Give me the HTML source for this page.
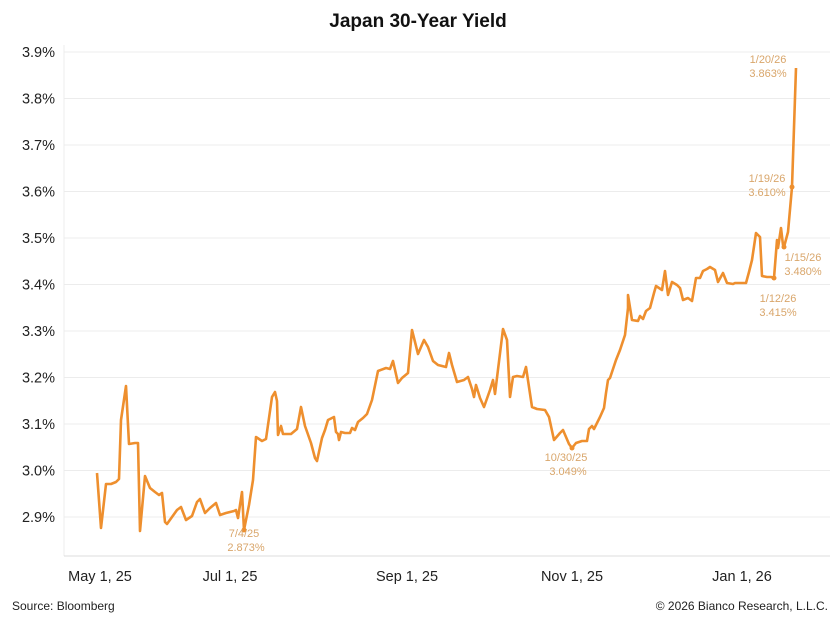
<!DOCTYPE html>
<html><head><meta charset="utf-8"><style>
body{margin:0;background:#fff;width:833px;height:620px;overflow:hidden;font-family:"Liberation Sans",sans-serif}
</style></head><body>
<svg width="833" height="620" viewBox="0 0 833 620" xmlns="http://www.w3.org/2000/svg" font-family="Liberation Sans, sans-serif">
<text x="418" y="27" text-anchor="middle" font-size="19" font-weight="bold" fill="#111">Japan 30-Year Yield</text>
<g stroke="#ececec" stroke-width="1">
<line x1="64" x2="830" y1="52" y2="52"/><line x1="64" x2="830" y1="98.5" y2="98.5"/><line x1="64" x2="830" y1="145" y2="145"/><line x1="64" x2="830" y1="191.5" y2="191.5"/><line x1="64" x2="830" y1="238" y2="238"/><line x1="64" x2="830" y1="284.5" y2="284.5"/><line x1="64" x2="830" y1="331" y2="331"/><line x1="64" x2="830" y1="377.5" y2="377.5"/><line x1="64" x2="830" y1="424" y2="424"/><line x1="64" x2="830" y1="470.5" y2="470.5"/><line x1="64" x2="830" y1="517" y2="517"/>
<line x1="64" x2="64" y1="45" y2="556"/>
</g>
<line x1="64" x2="830" y1="556" y2="556" stroke="#ddd"/>
<g font-size="14.5" fill="#222" text-anchor="end">
<text x="55" y="57">3.9%</text><text x="55" y="103.5">3.8%</text><text x="55" y="150">3.7%</text><text x="55" y="196.5">3.6%</text><text x="55" y="243">3.5%</text><text x="55" y="289.5">3.4%</text><text x="55" y="336">3.3%</text><text x="55" y="382.5">3.2%</text><text x="55" y="429">3.1%</text><text x="55" y="475.5">3.0%</text><text x="55" y="522">2.9%</text>
</g>
<g font-size="14.5" fill="#222" text-anchor="middle">
<text x="100" y="581">May 1, 25</text><text x="230" y="581">Jul 1, 25</text><text x="407" y="581">Sep 1, 25</text><text x="572" y="581">Nov 1, 25</text><text x="742" y="581">Jan 1, 26</text>
</g>
<text x="12" y="610" font-size="12" fill="#222">Source: Bloomberg</text>
<text x="828" y="610" font-size="12" fill="#222" text-anchor="end">© 2026 Bianco Research, L.L.C.</text>
<polyline fill="none" stroke="#ee8f2e" stroke-width="2.6" stroke-linejoin="round" points="97,473 101,528 106,484 111,484 116,482 119,479 121,420 126,386 129,444 135,443 138,443 140,531 145,476 150,488 155,492 159,495 162,493 165,522 167,524 172,517 177,510 181,507 186,520 192,516 197,502 200,499 205,513 210,508 216,503 220,515 226,513 234,511 236,510 238,518 242,492 244,530 249,505 253,480 256,437 262,441 266,439 272,397 275,392 277,401 278,435 281,426 283,434 291,434 297,429 301,407 305,426 311,443 315,458 317,461 322,438 325,430 328,420 330,419 334,417 336,432 338,434 339,440 341,432 345,433 350,433 352,428 355,430 358,422 363,418 367,414 372,400 378,371 386,368 390,369 393,361 398,383 402,378 408,373 412,330 418,354 424,340 428,347 433,361 438,365 446,367 449,353 452,365 457,382 464,380 468,377 472,389 474,397 476,385 480,398 484,407 490,390 493,380 495,394 503,329 507,340 510,397 513,377 517,376 523,377 526,367 532,407 537,409 545,410 549,417 554,440 560,433 563,430 569,444 572,448 576,443 582,441 587,441 589,429 592,426 594,429 600,417 604,408 606,393 608,380 610,378 616,360 620,350 625,335 628,308 628,295 632,320 638,321 640,316 643,319 646,311 650,308 654,293 656,286 662,290 665,271 668,295 672,282 677,285 680,288 683,300 688,298 692,301 696,278 700,278 703,271 707,269 710,267 715,270 718,282 723,273 727,283 733,284 735,283 746,283 749,272 752,260 756,233 760,237 762,276 767,277 771,277 774,278 777,240 778,248 781,228 783,245 784,247 788,232 792,187 796,68"/>
<g fill="#ee8f2e"><circle cx="244" cy="530" r="2.5"/><circle cx="572" cy="448" r="2.5"/><circle cx="774" cy="278" r="2.5"/><circle cx="784" cy="247" r="2.5"/><circle cx="792" cy="187" r="2.5"/></g>
<g font-size="11" fill="#d9a66b" text-anchor="middle">
<text x="244" y="537">7/4/25</text><text x="246" y="551">2.873%</text>
<text x="566" y="461">10/30/25</text><text x="568" y="475">3.049%</text>
<text x="768" y="63">1/20/26</text><text x="768" y="77">3.863%</text>
<text x="767" y="182">1/19/26</text><text x="767" y="196">3.610%</text>
<text x="803" y="261">1/15/26</text><text x="803" y="275">3.480%</text>
<text x="778" y="302">1/12/26</text><text x="778" y="316">3.415%</text>
</g>
</svg>
</body></html>
